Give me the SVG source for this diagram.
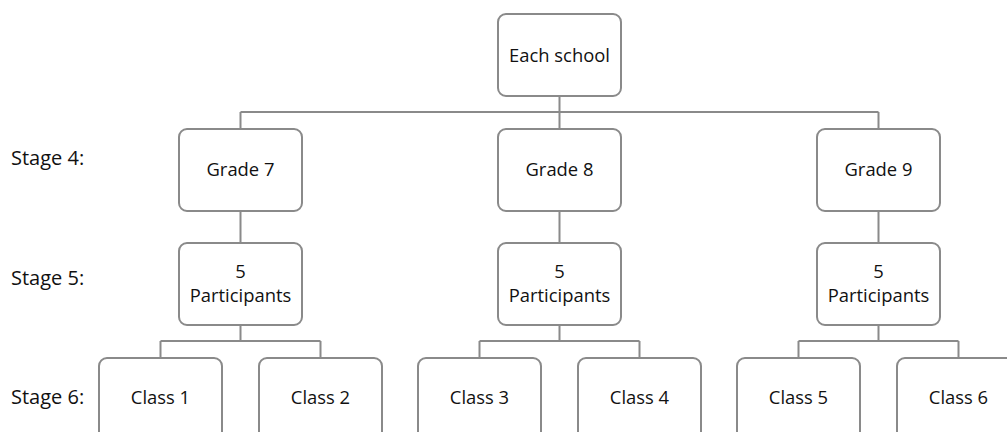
<svg xmlns="http://www.w3.org/2000/svg" width="1007" height="432" viewBox="0 0 1007 432">
<style>
.box{fill:#fff;stroke:#8a8a8a;stroke-width:2}
.ln{fill:none;stroke:#8a8a8a;stroke-width:2}
text{font-family:"Open Sans","Liberation Sans",sans-serif;font-size:18.4px;fill:#111}
.c{text-anchor:middle}
.s{font-size:20px}
</style>
<rect width="1007" height="432" fill="#fff"/>
<g id="connectors">
<path class="ln" d="M559.5 96V112M240.5 112H878.5M240.5 112V128M559.5 112V128M878.5 112V128"/>
<path class="ln" d="M240.5 211V243M559.5 211V243M878.5 211V243"/>
<path class="ln" d="M240.5 325V341M160.5 341H320.5M160.5 341V358M320.5 341V358"/>
<path class="ln" d="M559.5 325V341M479.5 341H639.5M479.5 341V358M639.5 341V358"/>
<path class="ln" d="M878.5 325V341M798.5 341H958.5M798.5 341V358M958.5 341V358"/>
</g>
<g id="labels">
<text class="s" x="11" y="165">Stage 4:</text>
<text class="s" x="11" y="285">Stage 5:</text>
<text class="s" x="11" y="404">Stage 6:</text>
</g>
<g id="school"><rect class="box" x="498" y="14" width="123" height="82" rx="8"/><text class="c" x="559.5" y="62">Each school</text></g>
<g id="grade7"><rect class="box" x="179" y="129" width="123" height="82" rx="8"/><text class="c" x="240.5" y="176">Grade 7</text></g>
<g id="grade8"><rect class="box" x="498" y="129" width="123" height="82" rx="8"/><text class="c" x="559.5" y="176">Grade 8</text></g>
<g id="grade9"><rect class="box" x="817" y="129" width="123" height="82" rx="8"/><text class="c" x="878.5" y="176">Grade 9</text></g>
<g id="part7"><rect class="box" x="179" y="243" width="123" height="82" rx="8"/><text class="c" x="240.5" y="278">5</text><text class="c" x="240.5" y="302">Participants</text></g>
<g id="part8"><rect class="box" x="498" y="243" width="123" height="82" rx="8"/><text class="c" x="559.5" y="278">5</text><text class="c" x="559.5" y="302">Participants</text></g>
<g id="part9"><rect class="box" x="817" y="243" width="123" height="82" rx="8"/><text class="c" x="878.5" y="278">5</text><text class="c" x="878.5" y="302">Participants</text></g>
<g id="class1"><rect class="box" x="99" y="358" width="123" height="82" rx="8"/><text class="c" x="160.5" y="404">Class 1</text></g>
<g id="class2"><rect class="box" x="259" y="358" width="123" height="82" rx="8"/><text class="c" x="320.5" y="404">Class 2</text></g>
<g id="class3"><rect class="box" x="418" y="358" width="123" height="82" rx="8"/><text class="c" x="479.5" y="404">Class 3</text></g>
<g id="class4"><rect class="box" x="578" y="358" width="123" height="82" rx="8"/><text class="c" x="639.5" y="404">Class 4</text></g>
<g id="class5"><rect class="box" x="737" y="358" width="123" height="82" rx="8"/><text class="c" x="798.5" y="404">Class 5</text></g>
<g id="class6"><rect class="box" x="897" y="358" width="123" height="82" rx="8"/><text class="c" x="958.5" y="404">Class 6</text></g>
</svg>
